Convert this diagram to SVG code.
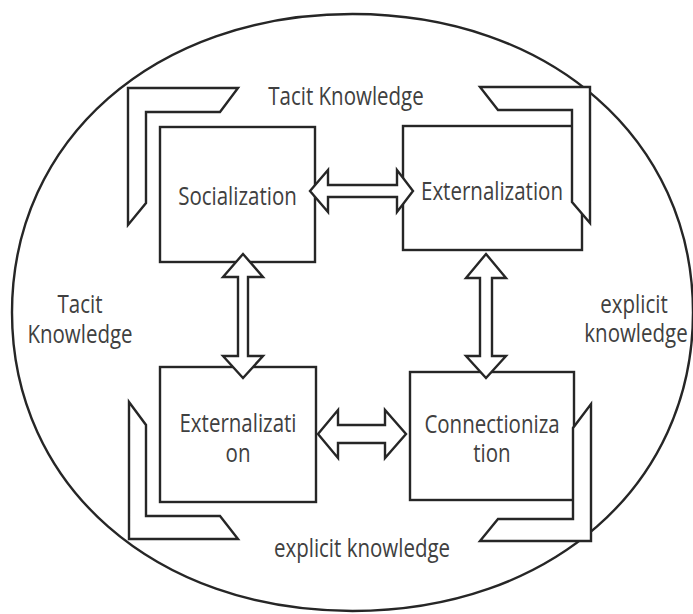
<svg xmlns="http://www.w3.org/2000/svg" width="693" height="614" viewBox="0 0 693 614">
<style>
.ln{fill:#fff;stroke:#262626;stroke-width:2.4;stroke-linejoin:miter}
.ol{fill:none;stroke:#262626;stroke-width:2.4}
.t{font-family:"Open Sans","Noto Sans",sans-serif;font-size:20.5px;fill:#404040;text-anchor:middle}
</style>
<rect width="693" height="614" fill="#fff"/>
<g id="boundary">
<path class="ol" d="M693,312.5 C693,485.6 550,611 352.5,611 C155,611 12,485.6 12,312.5 C12,139.4 155,14 352.5,14 C550,14 693,139.4 693,312.5 Z"/>
</g>
<g id="socialization">
<rect class="ln" x="160" y="127" width="155" height="135"/>
<text class="t" transform="translate(237.5,205) scale(1,1.22)">Socialization</text>
</g>
<g id="externalization-top">
<rect class="ln" x="403" y="126" width="179" height="124"/>
<text class="t" transform="translate(492,200) scale(1,1.22)">Externalization</text>
</g>
<g id="externalization-bottom">
<rect class="ln" x="160" y="367" width="156" height="135"/>
<text class="t" transform="translate(238,432) scale(1,1.22)"><tspan x="0" y="0">Externalizati</tspan><tspan x="0" y="24.6">on</tspan></text>
</g>
<g id="connectionization">
<rect class="ln" x="410" y="372" width="164" height="128"/>
<text class="t" transform="translate(492,433) scale(1,1.22)"><tspan x="0" y="0">Connectioniza</tspan><tspan x="0" y="23.8">tion</tspan></text>
</g>
<g id="brackets">
<polygon class="ln" points="128,88 238,88 220,112 146,112 146,203 128,225"/>
<polygon class="ln" points="480,87 590,87 590,223 572,202 572,110 498,110"/>
<polygon class="ln" points="129,402 146,425 146,516 220,516 238,539 129,539"/>
<polygon class="ln" points="591,404 591,541 480,541 498,519 573,519 573,428"/>
</g>
<g id="labels">
<text class="t" transform="translate(346,105) scale(1,1.22)">Tacit Knowledge</text>
<text class="t" transform="translate(80,313) scale(1,1.22)"><tspan x="0" y="0">Tacit</tspan><tspan x="0" y="24.6">Knowledge</tspan></text>
<text class="t" transform="translate(635,313) scale(1,1.22)"><tspan x="-1" y="0">explicit</tspan><tspan x="1" y="23.8">knowledge</tspan></text>
<text class="t" transform="translate(362,557) scale(1,1.22)">explicit knowledge</text>
</g>
<g id="connectors">
<polygon class="ln" points="310,191 328,170 328,185 397,185 397,170 413,191 397,212 397,197 328,197 328,212"/>
<polygon class="ln" points="318,434 338,410 338,425 385,425 385,410 406,434 385,458 385,443 338,443 338,458"/>
<polygon class="ln" points="243,254 263,277 248,277 248,356 263,356 243,378 223,356 238,356 238,277 223,277"/>
<polygon class="ln" points="486,254 506,278 492,278 492,356 506,356 486,378 466,356 480,356 480,278 466,278"/>
</g>
</svg>
